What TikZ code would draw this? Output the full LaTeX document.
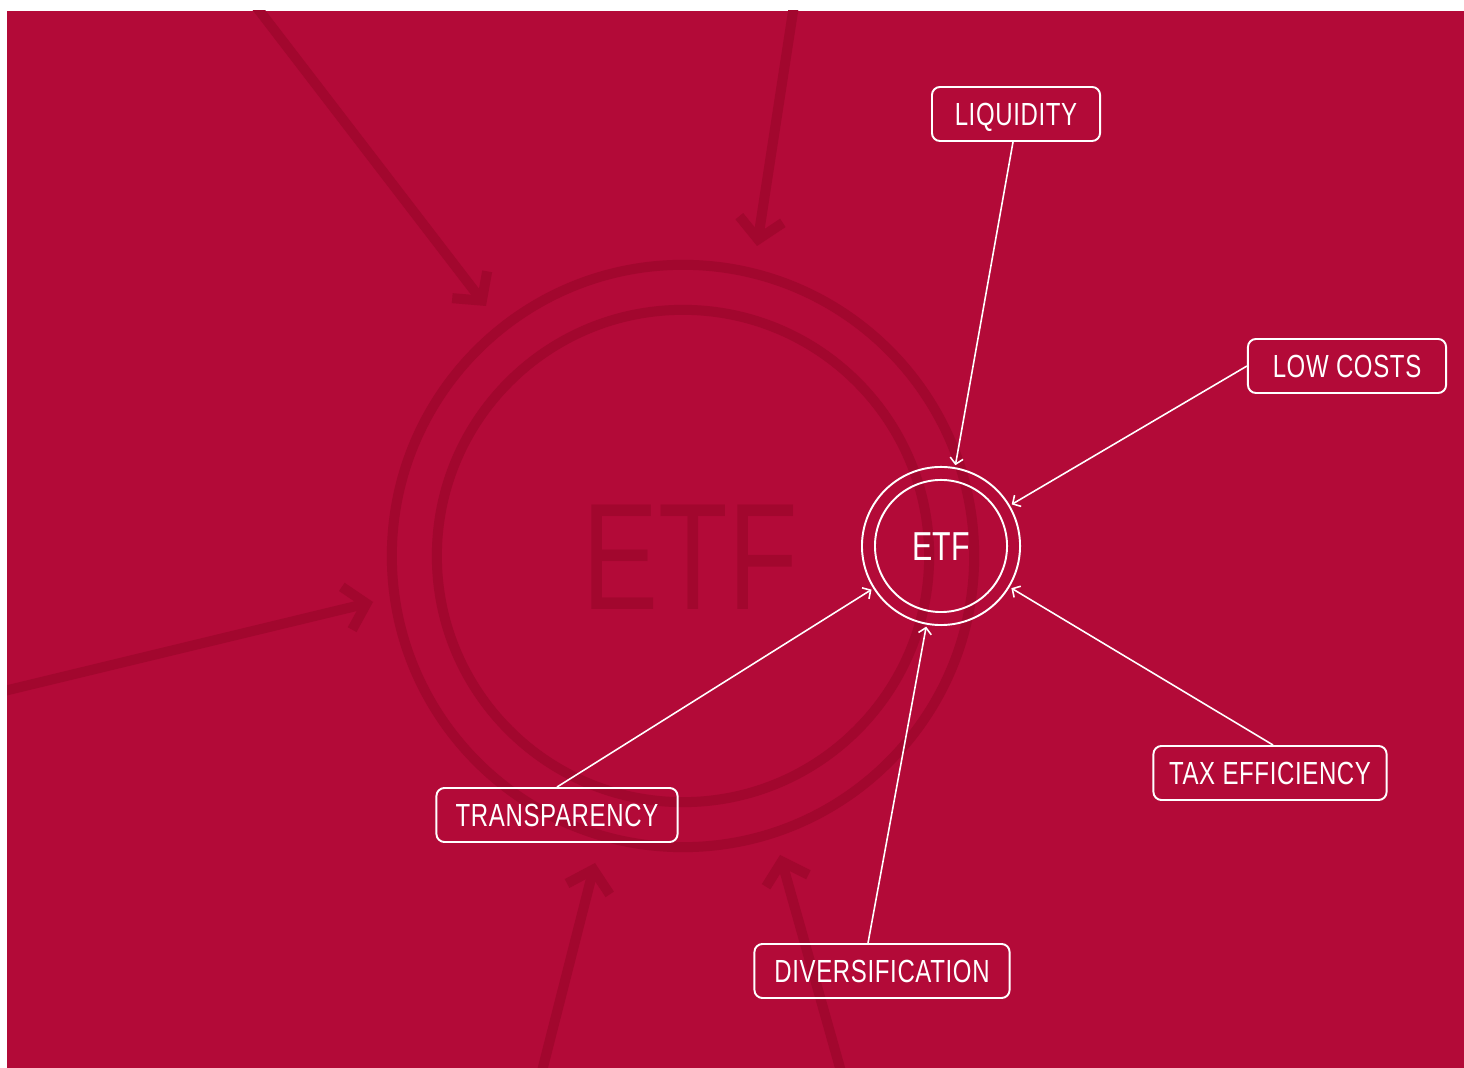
\documentclass[tikz,border=0pt]{standalone}
\usepackage{fontspec}
\newfontfamily\cond[FakeStretch=0.75,LetterSpace=2]{Liberation Sans}
\newfontfamily\condw[FakeStretch=0.75]{Liberation Sans}
\usetikzlibrary{arrows.meta}
\definecolor{bg}{RGB}{179,10,56}
\definecolor{wm}{RGB}{162,7,46}
\tikzset{
  wmline/.style={draw=wm, line width=0.1cm, line cap=butt, line join=miter},
  wmarrow/.style={wmline, -{Straight Barb[length=0.2cm,width=0.44cm,line width=0.1cm]}},
  box/.style={draw=white, line width=0.55pt, rounded corners=0.08cm, minimum height=0.54cm,
    text=white, inner sep=0pt, text height=0.23cm, text depth=0pt,
    font=\cond\fontsize{9.1}{10}\selectfont},
  conn/.style={draw=white, line width=0.45pt, -{Straight Barb[length=0.06cm,width=0.13cm]}},
}
\begin{document}
\begin{tikzpicture}[x=0.01cm,y=-0.01cm]
\useasboundingbox (0,0) rectangle (1464,1068);
\fill[white] (0,0) rectangle (1464,1068);
\fill[bg] (7,11) rectangle (1464,1068);
% watermark
\begin{scope}
\clip (7,11) rectangle (1464,1068);
\draw[wmline] (683,556) circle (2.91cm);
\draw[wmline] (683,556) circle (2.46cm);
\node[text=wm, font=\condw\fontsize{43.2}{44}\selectfont] (wmetf) at (690,557) {ETF};
\coordinate (a1s) at (255,5);
\coordinate (a1e) at (486,306);
\coordinate (a2s) at (794,5);
\coordinate (a2e) at (757,246);
\coordinate (a3s) at (0,692);
\coordinate (a3e) at (373,602);
\coordinate (a4s) at (541,1075);
\coordinate (a4e) at (595,863);
\coordinate (a5s) at (842,1075);
\coordinate (a5e) at (780,855);
\draw[wmarrow] (a1s) -- (a1e);
\draw[wmarrow] (a2s) -- (a2e);
\draw[wmarrow] (a3s) -- (a3e);
\draw[wmarrow] (a4s) -- (a4e);
\draw[wmarrow] (a5s) -- (a5e);
\end{scope}
% central ETF
\node[circle, draw=white, line width=0.55pt, minimum size=1.58cm, inner sep=0pt, outer sep=0.03cm] (etf) at (941,546) {};
\node[circle, draw=white, line width=0.55pt, minimum size=1.32cm, inner sep=0pt, text=white,
  text height=0.29cm, text depth=0pt,
  font=\condw\fontsize{11.5}{12}\selectfont] (etfin) at (941,546) {ETF};
% boxes
\node[box, minimum width=1.68cm] (liq) at (1016,114) {LIQUIDITY};
\node[box, minimum width=1.98cm] (low) at (1347,366) {LOW COSTS};
\node[box, minimum width=2.33cm] (tax) at (1270,773) {TAX EFFICIENCY};
\node[box, minimum width=2.55cm] (div) at (882,971) {DIVERSIFICATION};
\node[box, minimum width=2.41cm] (tra) at (557,815) {TRANSPARENCY};
% connectors
\draw[conn] ([xshift=-0.03cm]liq.south) -- (etf);
\draw[conn] (low.west) -- (etf);
\draw[conn] ([xshift=0.03cm]tax.north) -- (etf);
\draw[conn] ([xshift=-0.14cm]div.north) -- (etf);
\draw[conn] (tra.north) -- (etf);
\end{tikzpicture}
\end{document}
